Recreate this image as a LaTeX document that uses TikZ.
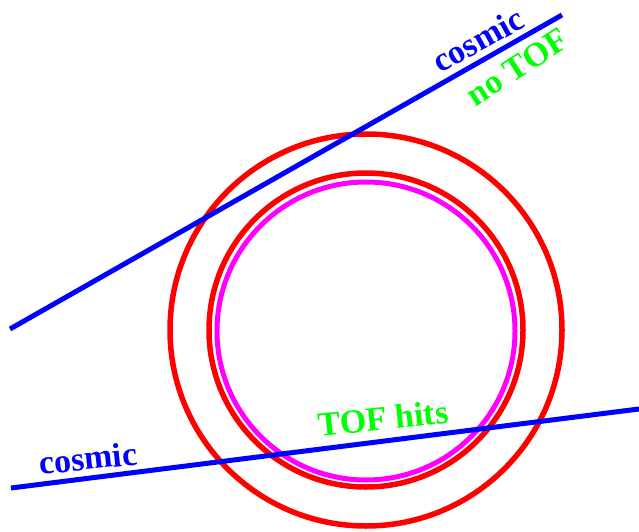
\documentclass[tikz,border=0pt]{standalone}
\usepackage{fontspec}
\setmainfont{Liberation Serif}
\definecolor{pinkring}{RGB}{255,0,255}
\definecolor{purered}{RGB}{255,0,0}
\definecolor{pureblue}{RGB}{0,0,255}
\definecolor{puregreen}{RGB}{0,255,0}
\begin{document}
\begin{tikzpicture}[x=1pt,y=-1pt,
  ring/.style={draw=purered,line width=5.5pt},
  tofring/.style={draw=pinkring,line width=5pt},
  track/.style={draw=pureblue,line width=5pt},
  lbl/.style={font=\fontsize{34}{40}\selectfont\bfseries,inner sep=0pt}]
\useasboundingbox (0,0) rectangle (639,532);
\coordinate (c) at (366,330);
\coordinate (cm) at (366,331);
\draw[ring] (c) circle[radius=196];
\draw[ring] (c) circle[radius=157];
\draw[tofring] (cm) circle[radius=149];
\coordinate (a1) at (10,329);
\coordinate (a2) at (562,15);
\coordinate (b1) at (11,488);
\coordinate (b2) at (639,409);
\draw[track] (a1) -- (a2);
\draw[track] (b1) -- (b2);
\node[lbl,text=pureblue,rotate=29] (cos1) at (478,40) {cosmic};
\node[lbl,text=puregreen,rotate=33] (notof) at (517,67) {no TOF};
\node[lbl,text=pureblue,rotate=6] (cos2) at (88,458) {cosmic};
\node[lbl,text=puregreen,rotate=6] (tofhits) at (383,418) {TOF hits};
\end{tikzpicture}
\end{document}
